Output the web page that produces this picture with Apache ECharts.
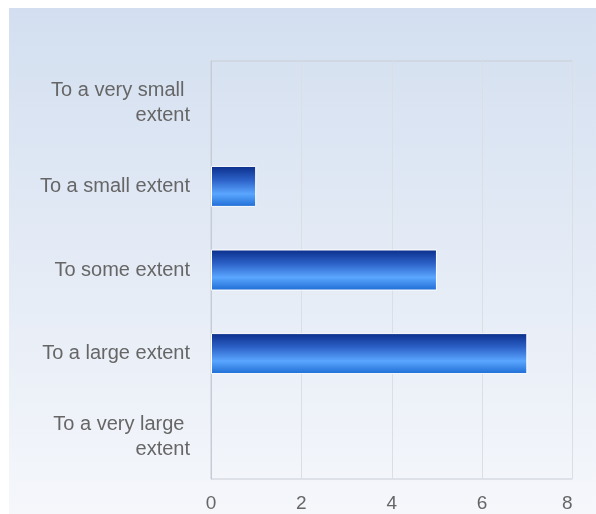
<!DOCTYPE html>
<html><head><meta charset="utf-8">
<script src="https://cdn.jsdelivr.net/npm/echarts@6/dist/echarts.min.js"></script>
<style>html,body{margin:0;padding:0;background:#fff}#c{width:596px;height:514px}</style>
</head><body><div id="c"></div>
<script>
var categories = ["To a very small extent", "To a small extent", "To some extent", "To a large extent", "To a very large extent"];
var values = [0, 1, 5, 7, 0];
var xTicks = {min: 0, max: 8, interval: 2};

var chart = echarts.init(document.getElementById('c'), null, {renderer: 'canvas'});
chart.setOption({
  backgroundColor: '#ffffff',
  animation: false,
  graphic: [{
    type: 'rect', z: -10, silent: true,
    shape: {x: 9, y: 8, width: 587, height: 506},
    style: {fill: new echarts.graphic.LinearGradient(0, 0, 0, 1, [
      {offset: 0, color: '#d3dff0'}, {offset: 1, color: '#f5f7fb'}])}
  }],
  grid: {left: 211, right: 23.5, top: 61, bottom: 35, show: true, borderColor: '#c9ced6', borderWidth: 1, backgroundColor: 'transparent'},
  xAxis: {
    type: 'value', min: xTicks.min, max: xTicks.max, interval: xTicks.interval,
    axisLine: {show: false}, axisTick: {show: false},
    splitLine: {lineStyle: {color: '#dadee5', width: 1}},
    axisLabel: {color: '#666', fontSize: 19, fontFamily: 'Liberation Sans, Arial, sans-serif', margin: 15, alignMaxLabel: 'right'}
  },
  yAxis: {
    type: 'category', data: categories, inverse: true,
    axisLine: {lineStyle: {color: '#c5ccd8'}}, axisTick: {show: false},
    axisLabel: {color: '#666', fontSize: 20, lineHeight: 25, padding: [3, 0, 0, 0], fontFamily: 'Liberation Sans, Arial, sans-serif', margin: 21, width: 165, overflow: 'break', align: 'right'}
  },
  series: [{
    type: 'bar',
    data: values.map(function (v) { return v === 0 ? {value: v, itemStyle: {borderWidth: 0, opacity: 0}} : v; }),
    barWidth: 41,
    itemStyle: {
      borderColor: '#ffffff', borderWidth: 1,
      color: new echarts.graphic.LinearGradient(0, 0, 0, 1, [
        {offset: 0, color: '#0a2d8a'},
        {offset: 0.35, color: '#2d62c8'},
        {offset: 0.68, color: '#5aa6ff'},
        {offset: 1, color: '#1e6cd4'}])
    }
  }]
});
</script></body></html>
